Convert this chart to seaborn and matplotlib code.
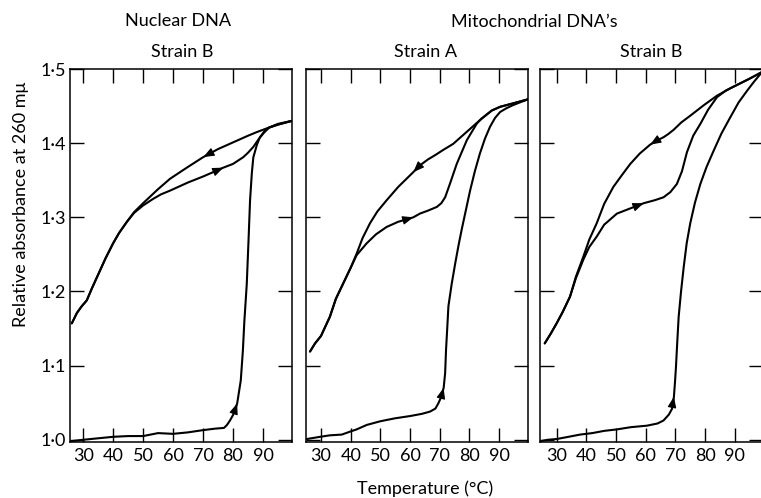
import numpy as np
import pandas as pd
import matplotlib
matplotlib.use("Agg")
import matplotlib.pyplot as plt
import seaborn as sns

# ---------------- data (temperature in degC, relative absorbance) ----------------
# Panel 1: Nuclear DNA, strain B
nuc_heat_T = [25.7, 30, 35, 40, 45, 50, 55, 60, 65, 70, 74, 77, 78, 79, 80.1, 81.4, 82.6,
              83.3, 83.8, 84.6, 85.2, 85.7, 86.3, 86.8, 88, 89, 90.5, 92.1, 95, 99.6]
nuc_heat_A = [0.998, 1.000, 1.002, 1.004, 1.005, 1.005, 1.009, 1.008, 1.010, 1.013, 1.015, 1.016,
              1.020, 1.026, 1.034, 1.049, 1.080, 1.120, 1.160, 1.210, 1.270, 1.323, 1.360,
              1.381, 1.398, 1.408, 1.416, 1.421, 1.425, 1.430]
nuc_cool_T = [99.6, 95, 92, 88, 85, 80, 75, 70, 64.6, 59, 55, 50, 47, 44.6, 42, 40, 37.5,
              35.7, 33, 31.2, 29.5, 27.9, 26.2]
nuc_cool_A = [1.430, 1.426, 1.421, 1.415, 1.410, 1.401, 1.392, 1.381, 1.367, 1.352, 1.338,
              1.319, 1.307, 1.294, 1.279, 1.265, 1.245, 1.229, 1.205, 1.188, 1.180, 1.171, 1.157]
nuc_reheat_T = [26.2, 27.9, 29.5, 31.2, 33, 35.7, 37.5, 40, 42, 44.6, 47, 50, 53.4, 56, 59,
                65, 70, 74, 76.8, 80, 83.4, 85, 86.8, 88.5, 90.1, 92, 95, 99.6]
nuc_reheat_A = [1.157, 1.171, 1.180, 1.188, 1.205, 1.229, 1.245, 1.265, 1.279, 1.294, 1.306,
                1.316, 1.325, 1.331, 1.336, 1.347, 1.355, 1.362, 1.367, 1.372, 1.381, 1.387,
                1.395, 1.405, 1.413, 1.421, 1.425, 1.430]

# Panel 2: Mitochondrial DNA, strain A
mitoA_heat_T = [25.2, 29.7, 33, 37, 39.8, 42, 45.4, 50, 55, 60, 64, 66.7, 68.5, 69.5, 70.5,
                71.3, 71.8, 72.1, 72.5, 72.9, 74, 75.2, 76.3, 77.4, 78.8, 80.2, 81.8, 83.5,
                85.2, 86.9, 88.6, 90.3, 92.4, 94.5, 97, 99.6]
mitoA_heat_A = [1.001, 1.004, 1.006, 1.007, 1.011, 1.014, 1.020, 1.025, 1.029, 1.032, 1.035,
                1.038, 1.042, 1.049, 1.058, 1.070, 1.090, 1.121, 1.150, 1.180, 1.210, 1.238,
                1.262, 1.284, 1.310, 1.336, 1.362, 1.386, 1.406, 1.422, 1.434, 1.442, 1.447,
                1.451, 1.455, 1.459]
mitoA_cool_T = [99.6, 95, 90.3, 87.5, 83.5, 79, 74.5, 71.2, 68.5, 66, 63.3, 61.1, 56, 52.1,
                49, 46.5, 44, 42, 40, 37.5, 35, 33, 30, 28, 26.3]
mitoA_cool_A = [1.459, 1.454, 1.449, 1.444, 1.431, 1.415, 1.399, 1.391, 1.384, 1.378, 1.370,
                1.361, 1.341, 1.323, 1.308, 1.292, 1.272, 1.251, 1.232, 1.211, 1.190, 1.166,
                1.140, 1.130, 1.119]
mitoA_reheat_T = [26.3, 28, 30, 33, 35, 37.5, 40, 42, 45.4, 48.5, 52.1, 56, 61.1, 63.3, 66,
                  69, 70.5, 71.8, 73.4, 75.7, 79.1, 82.4, 84, 87.5, 90.3, 95, 99.6]
mitoA_reheat_A = [1.119, 1.130, 1.140, 1.166, 1.190, 1.211, 1.232, 1.249, 1.265, 1.277, 1.287,
                  1.294, 1.300, 1.305, 1.309, 1.314, 1.319, 1.327, 1.345, 1.372, 1.404, 1.426,
                  1.433, 1.444, 1.449, 1.454, 1.459]

# Panel 3: Mitochondrial DNA, strain B
mitoB_heat_T = [24.4, 27, 30, 34, 37.9, 42, 46, 50.3, 55, 60.4, 64, 66, 67.8, 68.9, 69.5,
                69.9, 70.2, 70.6, 71.1, 71.9, 72.8, 73.8, 75, 76.6, 78.4, 80.5, 82.9, 85.5,
                88.5, 91.3, 94.2, 96.5, 99.2]
mitoB_heat_A = [0.998, 1.000, 1.001, 1.004, 1.007, 1.009, 1.012, 1.014, 1.017, 1.019, 1.022,
                1.026, 1.034, 1.042, 1.058, 1.080, 1.099, 1.130, 1.166, 1.200, 1.233, 1.265,
                1.292, 1.320, 1.345, 1.368, 1.390, 1.413, 1.435, 1.455, 1.471, 1.483, 1.496]
mitoB_cool_T = [99.2, 95, 92, 88.5, 84, 79.5, 75, 72, 69.4, 67.5, 66, 63.5, 61.5, 58, 54.8,
                52, 49.1, 46, 43.5, 41, 39, 36.5, 34.5, 32, 30, 28, 26]
mitoB_cool_A = [1.496, 1.487, 1.481, 1.474, 1.464, 1.451, 1.437, 1.428, 1.418, 1.412, 1.408,
                1.403, 1.398, 1.386, 1.372, 1.357, 1.341, 1.318, 1.292, 1.270, 1.247, 1.220,
                1.193, 1.172, 1.157, 1.143, 1.130]
mitoB_reheat_T = [26, 28, 30, 32, 34.5, 36.5, 39, 41, 43.5, 46, 50.3, 54.8, 59.3, 63, 66,
                  68.3, 70.5, 72.2, 73.9, 76, 78.4, 81, 84, 87, 88.5, 92, 95, 99.2]
mitoB_reheat_A = [1.130, 1.143, 1.157, 1.172, 1.193, 1.218, 1.243, 1.260, 1.274, 1.290, 1.305,
                  1.312, 1.319, 1.323, 1.327, 1.334, 1.345, 1.362, 1.388, 1.410, 1.426, 1.445,
                  1.462, 1.471, 1.474, 1.481, 1.487, 1.496]

# arrow tip temperatures: (heating, cooling, reheating) per panel
arrow_T = [(81.4, 70.1, 76.8), (71.3, 61.1, 61.1), (69.5, 61.5, 59.3)]

x_ticks = [30, 40, 50, 60, 70, 80, 90]
y_ticks = [1.0, 1.1, 1.2, 1.3, 1.4, 1.5]
group_titles = ["Nuclear DNA", "Mitochondrial DNA\u2019s"]
panel_titles = ["Strain B", "Strain A", "Strain B"]
x_label = "Temperature (\u00b0C)"
y_label = "Relative absorbance at 260 m\u03bc"

panels = [
    (nuc_heat_T, nuc_heat_A, nuc_cool_T, nuc_cool_A, nuc_reheat_T, nuc_reheat_A),
    (mitoA_heat_T, mitoA_heat_A, mitoA_cool_T, mitoA_cool_A, mitoA_reheat_T, mitoA_reheat_A),
    (mitoB_heat_T, mitoB_heat_A, mitoB_cool_T, mitoB_cool_A, mitoB_reheat_T, mitoB_reheat_A),
]

# ---------------- styling ----------------
sns.set_style("white")
plt.rcParams["font.family"] = ["Lato", "DejaVu Sans"]
plt.rcParams["font.weight"] = "normal"
plt.rcParams["text.color"] = "black"

W, H = 761, 498
fig = plt.figure(figsize=(W / 100, H / 100), dpi=100)

ax_lefts = [70, 306, 540]
ax_ws = [222, 222, 223]
ax_top, ax_bottom = 69, 442
xlims = [(25.6, 99.7), (24.95, 99.7), (24.4, 99.5)]

def fx(px):
    return px / W

def fy(py):
    return 1 - py / H

LW = 1.5
for i, (hT, hA, cT, cA, rT, rA) in enumerate(panels):
    ax = fig.add_axes([fx(ax_lefts[i]), fy(ax_bottom), ax_ws[i] / W, (ax_bottom - ax_top) / H])
    for T, A in [(hT, hA), (cT, cA), (rT, rA)]:
        df = pd.DataFrame({"T": T, "A": A})
        sns.lineplot(data=df, x="T", y="A", sort=False, estimator=None,
                     color="black", lw=LW, ax=ax)
    # arrowheads along the curves, direction of travel
    for (T, A, d), tip in zip([(hT, hA, 1), (cT, cA, -1), (rT, rA, 1)], arrow_T[i]):
        Ts = np.array(T, float)
        As = np.array(A, float)
        o = np.argsort(Ts)
        Ts, As = Ts[o], As[o]
        tail = tip - 0.8 * d
        ax.annotate("", xy=(tip, np.interp(tip, Ts, As)),
                    xytext=(tail, np.interp(tail, Ts, As)),
                    arrowprops=dict(arrowstyle="-|>,head_length=0.55,head_width=0.22",
                                    color="black", lw=0.8, shrinkA=0, shrinkB=0,
                                    mutation_scale=12))
    ax.set_xlim(*xlims[i])
    ax.set_ylim(0.997, 1.5)
    ax.set_xticks(x_ticks)
    ax.set_yticks(y_ticks)
    ax.set_xlabel("")
    ax.set_ylabel("")
    ax.tick_params(direction="in", length=10, width=1.0, top=True, right=True,
                   bottom=True, left=True, colors="black", labelcolor="black",
                   labelsize=13, pad=4)
    ax.set_xticklabels([str(t) for t in x_ticks])
    if i == 0:
        ax.set_yticklabels([f"{v:.1f}".replace(".", "\u00b7") for v in y_ticks])
        ax.tick_params(axis="y", pad=3)
    else:
        ax.set_yticklabels([])
    for s in ax.spines.values():
        s.set_color("black")
        s.set_linewidth(1.1)
        s.set_visible(True)
    ax.set_facecolor("white")

fs_title = 13
kw = dict(ha="center", va="center", fontsize=fs_title, color="black")
fig.text(fx(178), fy(21), group_titles[0], **kw)
fig.text(fx(534), fy(22), group_titles[1], **kw)
for xc, t in zip([182, 425, 651], panel_titles):
    fig.text(fx(xc), fy(52), t, **kw)
fig.text(fx(425), fy(489), x_label, **kw)
fig.text(fx(21), fy(204), y_label, rotation=90, **kw)

fig.savefig("out.png", dpi=100, facecolor="white")
